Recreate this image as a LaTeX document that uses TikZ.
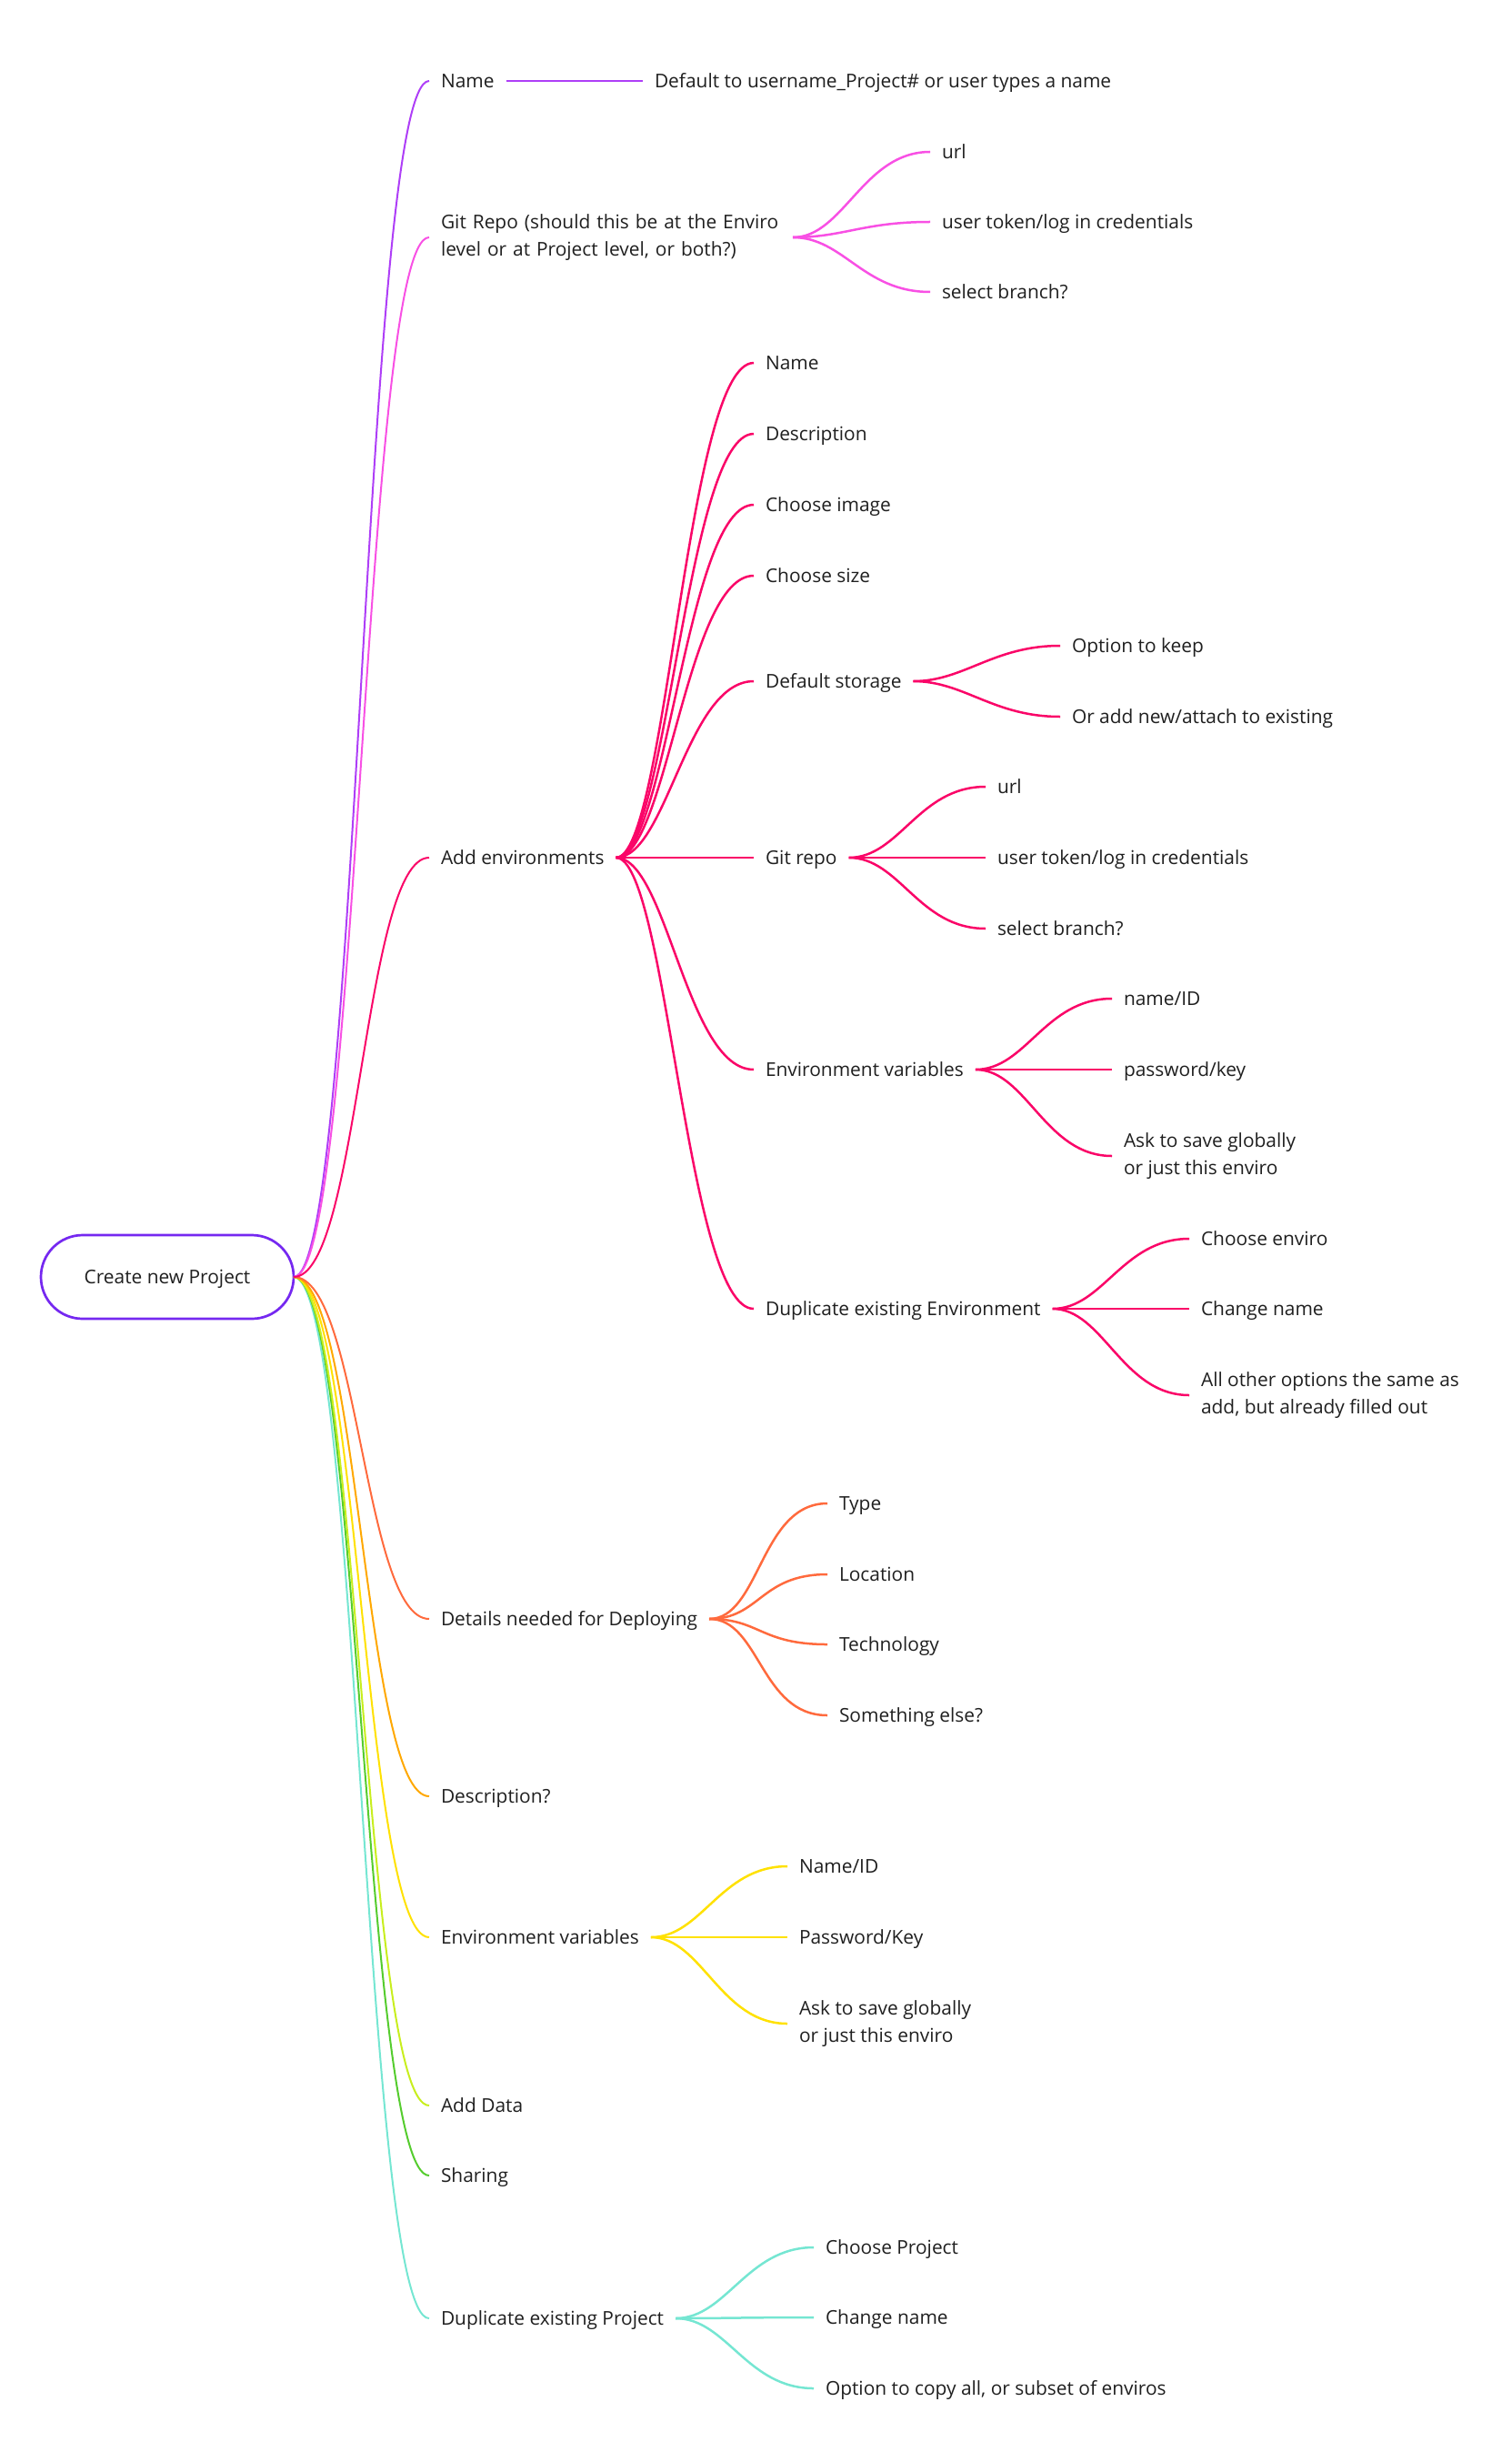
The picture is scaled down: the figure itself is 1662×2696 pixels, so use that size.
\documentclass[tikz,border=0pt]{standalone}
\usepackage{fontspec}
\setmainfont{Open Sans}
\definecolor{ink}{HTML}{1F1F1F}
\definecolor{rootc}{HTML}{7528F0}
\definecolor{namec}{HTML}{AE3EF7}
\definecolor{gitc}{HTML}{F850E4}
\definecolor{envc}{HTML}{FA0568}
\definecolor{deployc}{HTML}{FF6A3D}
\definecolor{descc}{HTML}{FFA800}
\definecolor{varc}{HTML}{FFE100}
\definecolor{datac}{HTML}{C8EE1E}
\definecolor{sharec}{HTML}{55CC2E}
\definecolor{dupc}{HTML}{75E6D2}
\begin{document}
\begin{tikzpicture}[x=0.5pt,y=-0.5pt,
every node/.style={anchor=west,text=ink,font=\fontsize{10.45}{15}\selectfont,inner xsep=6.5pt,inner ysep=2pt,outer sep=0pt,align=left,text height=7.5pt,text depth=0pt},
para/.style={text height={},text depth={}},
root/.style={anchor=center,draw=rootc,line width=1.35pt,rounded corners=23pt,minimum width=139pt,minimum height=46pt,inner xsep=0pt},
trunk/.style={line width=1pt,out=0,in=180,out distance=36pt,in distance=36pt},
twig/.style={line width=1.25pt,out=0,in=180,out distance=28pt,in distance=37pt},
]
\useasboundingbox(0,0)rectangle(1662,2696);

\node[root](root)at(184,1404){Create new Project};

%first level
\node(name)at(472,89){Name};
\node[para,text width=187pt](git)at(472,261){Git Repo (should this be at the Enviro\\level or at Project level, or both?)};
\node(addenv)at(472,943){Add environments};
\node(deploy)at(472,1780){Details needed for Deploying};
\node(desc)at(472,1975){Description?};
\node(vars)at(472,2130){Environment variables};
\node(data)at(472,2315){Add Data};
\node(share)at(472,2392){Sharing};
\node(dupproj)at(472,2549){Duplicate existing Project};

\node(namedef)at(707,89){Default to username\_Project\# or user types a name};

\node(giturl)at(1023,167){url};
\node(gittok)at(1023,244){user token/log in credentials};
\node(gitbr)at(1023,321){select branch?};

%environments
\node(envname)at(829,399){Name};
\node(envdesc)at(829,477){Description};
\node(envimg)at(829,555){Choose image};
\node(envsize)at(829,633){Choose size};
\node(envstor)at(829,749){Default storage};
\node(envgit)at(829,943){Git repo};
\node(envvars)at(829,1176){Environment variables};
\node(envdup)at(829,1439){Duplicate existing Environment};

\node(storkeep)at(1166,710){Option to keep};
\node(storadd)at(1166,788){Or add new/attach to existing};

\node(egurl)at(1084,865){url};
\node(egtok)at(1084,943){user token/log in credentials};
\node(egbr)at(1084,1021){select branch?};

\node(evid)at(1223,1098){name/ID};
\node(evkey)at(1223,1176){password/key};
\node[para](evask)at(1223,1271){Ask to save globally\\or just this enviro};

\node(edchoose)at(1308,1362){Choose enviro};
\node(edname)at(1308,1439){Change name};
\node[para](edother)at(1308,1534){All other options the same as\\add, but already filled out};

%deploying
\node(deptype)at(910,1653){Type};
\node(deploc)at(910,1731){Location};
\node(deptech)at(910,1808){Technology};
\node(depelse)at(910,1886){Something else?};

\node(varid)at(866,2052){Name/ID};
\node(varkey)at(866,2130){Password/Key};
\node[para](varask)at(866,2225){Ask to save globally\\or just this enviro};

\node(dpchoose)at(895,2471){Choose Project};
\node(dpname)at(895,2548){Change name};
\node(dpcopy)at(895,2626){Option to copy all, or subset of enviros};

%connectors
\draw[trunk,dupc](root.east)to(dupproj.west);
\draw[trunk,sharec](root.east)to(share.west);
\draw[trunk,datac](root.east)to(data.west);
\draw[trunk,varc](root.east)to(vars.west);
\draw[trunk,descc](root.east)to(desc.west);
\draw[trunk,deployc](root.east)to(deploy.west);
\draw[trunk,namec](root.east)to(name.west);
\draw[trunk,gitc](root.east)to(git.west);
\draw[trunk,envc](root.east)to(addenv.west);

\draw[twig,namec](name.east)to(namedef.west);
\foreach \c in {giturl,gittok,gitbr}\draw[twig,gitc](git.east)to(\c.west);
\foreach \c in {envname,envdesc,envimg,envsize,envstor,envgit,envvars,envdup}\draw[twig,envc](addenv.east)to(\c.west);
\foreach \c in {storkeep,storadd}\draw[twig,envc](envstor.east)to(\c.west);
\foreach \c in {egurl,egtok,egbr}\draw[twig,envc](envgit.east)to(\c.west);
\foreach \c in {evid,evkey,evask}\draw[twig,envc](envvars.east)to(\c.west);
\foreach \c in {edchoose,edname,edother}\draw[twig,envc](envdup.east)to(\c.west);
\foreach \c in {deptype,deploc,deptech,depelse}\draw[twig,deployc](deploy.east)to(\c.west);
\foreach \c in {varid,varkey,varask}\draw[twig,varc](vars.east)to(\c.west);
\foreach \c in {dpchoose,dpname,dpcopy}\draw[twig,dupc](dupproj.east)to(\c.west);

\end{tikzpicture}
\end{document}
